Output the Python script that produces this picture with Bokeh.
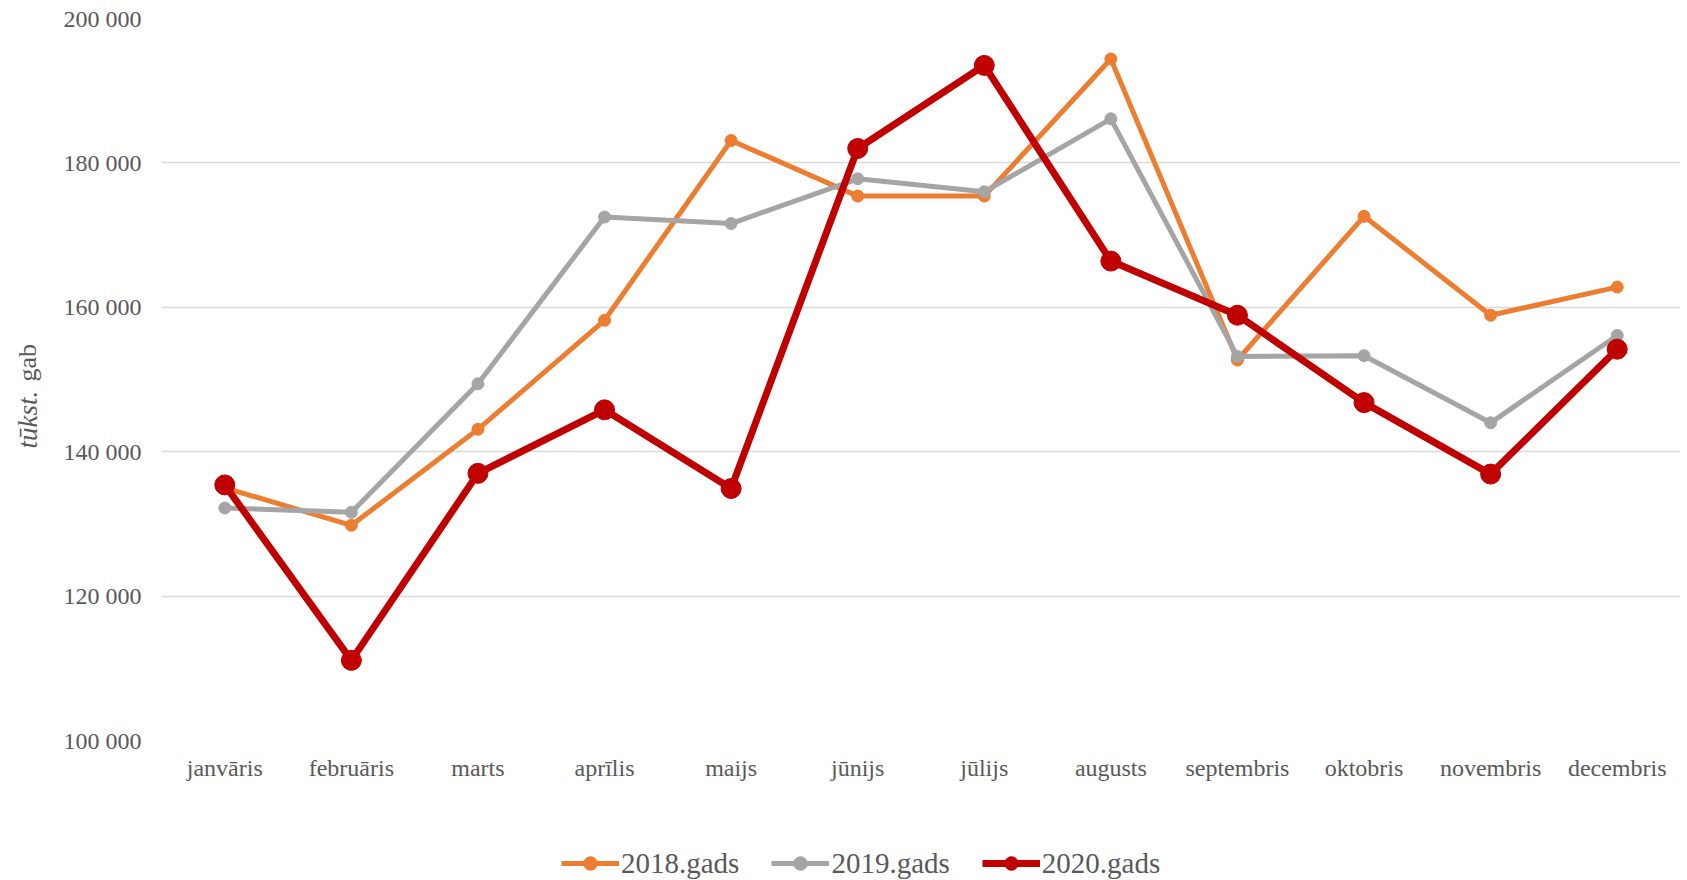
from bokeh.plotting import figure
from bokeh.layouts import row, column
from bokeh.models import (Range1d, FixedTicker, Legend, LegendItem)
from bokeh.core.properties import value
from bokeh.embed import file_html
from bokeh.resources import INLINE
import math

months = ["janvāris", "februāris", "marts", "aprīlis", "maijs", "jūnijs",
          "jūlijs", "augusts", "septembris", "oktobris", "novembris", "decembris"]
y2018 = [135000, 129800, 143100, 158200, 183100, 175400,
         175400, 194400, 152700, 172600, 158900, 162800]
y2019 = [132200, 131600, 149400, 172500, 171600, 177800,
         176000, 186100, 153200, 153300, 144000, 156100]
y2020 = [135400, 111100, 137000, 145800, 134900, 182000,
         193500, 166400, 158900, 146800, 136900, 154200]
series_names = ["2018.gads", "2019.gads", "2020.gads"]
series_colors = ["#ED7D31", "#A5A5A5", "#C00000"]
y_ticks = [100000, 120000, 140000, 160000, 180000, 200000]
y_tick_labels = ["100 000", "120 000", "140 000", "160 000", "180 000", "200 000"]
y_label_italic = ["tūkst."]
y_label_normal = ["gab"]

FONT = "Liberation Serif"
TXT = "#595959"
W = 1687
HP = 800          # height of the chart part
HL = 80           # height of the legend strip
LW = 60           # width of the y-title strip
TOP, BOTTOM = 18, 60

# narrow figure holding the y-axis title (mixed italic / upright)
lf = figure(width=LW, height=HP, x_range=Range1d(0, LW), y_range=Range1d(HP - BOTTOM, TOP),
            output_backend="svg", toolbar_location=None,
            min_border_left=0, min_border_right=0, min_border_top=TOP,
            min_border_bottom=BOTTOM)
lf.outline_line_color = None
lf.axis.visible = False
lf.grid.visible = False
lf.text(x=[27], y=[448], text=y_label_italic, angle=math.pi / 2,
        text_font=value(FONT), text_font_style="italic", text_font_size="27px",
        text_color=TXT, text_align="left", text_baseline="middle")
lf.text(x=[27], y=[381], text=y_label_normal, angle=math.pi / 2,
        text_font=value(FONT), text_font_size="26px",
        text_color=TXT, text_align="left", text_baseline="middle")

p = figure(width=W - LW, height=HP, x_range=months, y_range=Range1d(100000, 200000),
           output_backend="svg", toolbar_location=None,
           min_border_left=156 - LW, min_border_right=7, min_border_top=TOP,
           min_border_bottom=BOTTOM)
p.outline_line_color = None
p.xgrid.grid_line_color = None
p.ygrid.grid_line_color = "#D9D9D9"
p.ygrid.grid_line_width = 1.5

p.yaxis.ticker = FixedTicker(ticks=y_ticks)
p.yaxis.major_label_overrides = {t: l for t, l in zip(y_ticks, y_tick_labels)}
for ax in (p.xaxis[0], p.yaxis[0]):
    ax.axis_line_color = None
    ax.major_tick_line_color = None
    ax.minor_tick_line_color = None
    ax.major_tick_out = 0
    ax.major_tick_in = 0
    ax.major_label_text_font = FONT
    ax.major_label_text_color = TXT
p.yaxis.major_label_text_font_size = "24px"
p.yaxis.major_label_standoff = 20
p.xaxis.major_label_text_font_size = "24px"
p.xaxis.major_label_standoff = 14
p.x_range.range_padding = 0

series = [y2018, y2019, y2020]
sizes = [12, 12, 20]
widths = [5, 5, 7]
for ys, c, s, w in zip(series, series_colors, sizes, widths):
    p.line(months, ys, line_color=c, line_width=w)
    p.scatter(months, ys, size=s, fill_color=c, line_color=c)

# legend strip: its own figure; the series are drawn there too, but lie
# outside its (0..1) y range, so only the legend shows
lg = figure(width=W, height=HL, x_range=months, y_range=Range1d(0, 1),
            output_backend="svg", toolbar_location=None, min_border=0)
lg.outline_line_color = None
lg.axis.visible = False
lg.grid.visible = False
items = []
for name, ys, c, s, w in zip(series_names, series, series_colors, sizes, widths):
    lr = lg.line(months, ys, line_color=c, line_width=w)
    sr = lg.scatter(months, ys, size=s, fill_color=c, line_color=c)
    items.append(LegendItem(label=name, renderers=[lr, sr]))
legend = Legend(items=items, orientation="horizontal", location=(561, 0))
legend.label_text_font = FONT
legend.label_text_font_size = "29px"
legend.label_text_color = TXT
legend.glyph_width = 58
legend.glyph_height = 34
legend.label_standoff = 2
legend.spacing = 32
legend.padding = 0
legend.margin = 0
legend.border_line_color = None
legend.background_fill_alpha = 0
lg.add_layout(legend, "center")

layout = column(row(lf, p), lg)
open("out.html", "w").write(file_html(layout, INLINE))
